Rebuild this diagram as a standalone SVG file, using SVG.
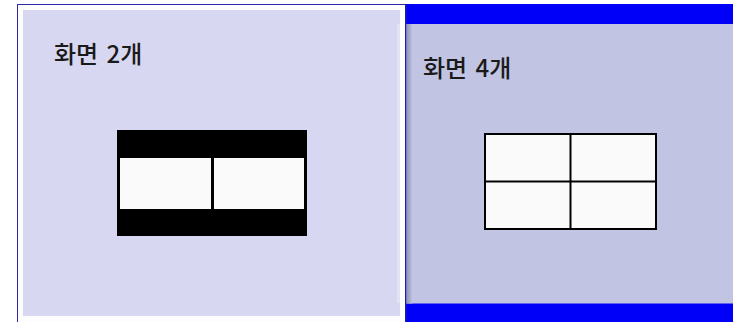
<svg xmlns="http://www.w3.org/2000/svg" width="733" height="322" viewBox="0 0 733 322">
<style>
.lbl{font-family:"Noto Sans CJK KR","Noto Sans",sans-serif;font-size:24px;font-weight:500;fill:#1a1a1a;word-spacing:3px}
.cell{fill:#FAFAFA;stroke:#000;stroke-width:2}
</style>
<defs>
<linearGradient id="shadow" x1="0" y1="0" x2="1" y2="0">
<stop offset="0" stop-color="#8E90B4"/>
<stop offset="1" stop-color="#C2C4E4"/>
</linearGradient>
</defs>
<rect x="0" y="0" width="733" height="322" fill="#FFFFFF"/>
<g id="panel-two">
<rect x="17.5" y="4.5" width="388" height="320" fill="#FDFDFD" stroke="#2A2AA8" stroke-width="1"/>
<rect x="23" y="10" width="377" height="306" fill="#D7D7F1"/>
<rect x="397" y="24" width="3" height="279" fill="#E2E2F5"/>
<text class="lbl" x="54" y="63">화면 2개</text>
<rect x="117" y="130" width="190" height="106" fill="#000"/>
<rect x="119" y="157" width="93" height="53" class="cell" stroke="none"/>
<rect x="213" y="157" width="92" height="53" class="cell" stroke="none"/>
</g>
<g id="panel-four">
<rect x="405" y="4" width="328" height="318" fill="#0000F8"/>
<rect x="405" y="4" width="1.5" height="318" fill="#1E1E9A"/>
<rect x="406.5" y="24" width="327" height="279.5" fill="#C2C4E4"/>
<rect x="406.5" y="24" width="6" height="279.5" fill="url(#shadow)"/>
<text class="lbl" x="423" y="77">화면 4개</text>
<rect x="485" y="134" width="171" height="95" class="cell"/>
<line x1="570.5" y1="134" x2="570.5" y2="229" stroke="#000" stroke-width="2"/>
<line x1="485" y1="181.5" x2="656" y2="181.5" stroke="#000" stroke-width="2"/>
</g>
<g id="connectors"/>
</svg>
